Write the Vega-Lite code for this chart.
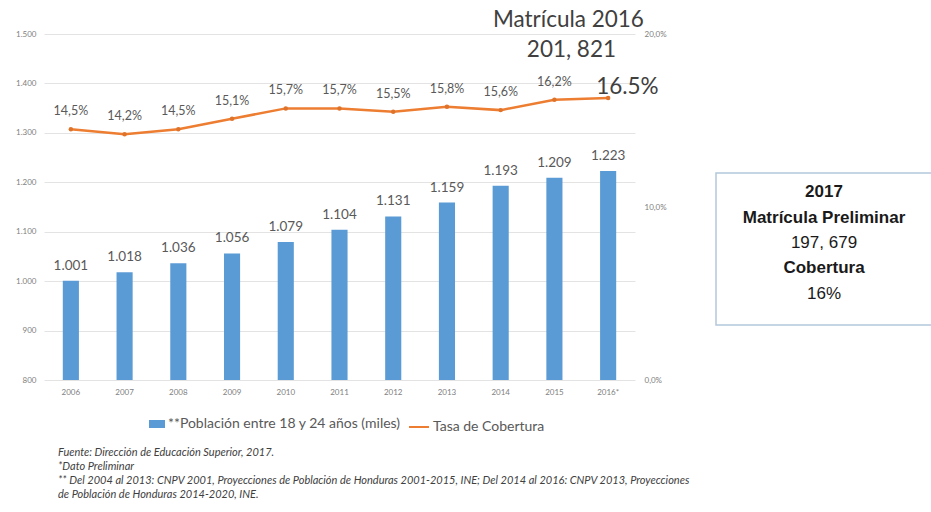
{
  "$schema": "https://vega.github.io/schema/vega-lite/v6.json",
  "background": "white",
  "padding": {"left": 15, "top": 9, "right": 0, "bottom": 0},
  "bounds": "flush",
  "spacing": 81,
  "config": {
    "font": "Lato",
    "view": {"stroke": null},
    "locale": {"number": {"decimal": ",", "thousands": ".", "grouping": [3], "currency": ["", ""]}}
  },
  "title": {
    "text": [
      "Fuente: Dirección de Educación Superior, 2017.",
      "*Dato Preliminar",
      "** Del 2004 al 2013: CNPV 2001, Proyecciones de Población de Honduras 2001-2015, INE; Del 2014 al 2016: CNPV 2013, Proyecciones",
      "de Población de Honduras 2014-2020, INE."
    ],
    "orient": "bottom",
    "anchor": "start",
    "frame": "group",
    "fontSize": 11,
    "fontStyle": "italic",
    "fontWeight": "normal",
    "color": "#404040",
    "lineHeight": 14,
    "offset": 13,
    "dx": 14
  },
  "datasets": {
    "main": [
      {"year": "2006", "pob": 1001, "cob": 0.145},
      {"year": "2007", "pob": 1018, "cob": 0.142},
      {"year": "2008", "pob": 1036, "cob": 0.145},
      {"year": "2009", "pob": 1056, "cob": 0.151},
      {"year": "2010", "pob": 1079, "cob": 0.157},
      {"year": "2011", "pob": 1104, "cob": 0.157},
      {"year": "2012", "pob": 1131, "cob": 0.155},
      {"year": "2013", "pob": 1159, "cob": 0.158},
      {"year": "2014", "pob": 1193, "cob": 0.156},
      {"year": "2015", "pob": 1209, "cob": 0.162},
      {"year": "2016*", "pob": 1223, "cob": 0.163}
    ],
    "box": [
      {"line": 1, "text": "2017", "bold": true},
      {"line": 2, "text": "Matrícula Preliminar", "bold": true},
      {"line": 3, "text": "197, 679", "bold": false},
      {"line": 4, "text": "Cobertura", "bold": true},
      {"line": 5, "text": "16%", "bold": false}
    ]
  },
  "hconcat": [
    {
      "width": 591,
      "height": 346,
      "data": {"name": "main"},
      "encoding": {
        "x": {
          "field": "year",
          "type": "ordinal",
          "sort": null,
          "scale": {"paddingInner": 0.7, "paddingOuter": 0.35},
          "axis": {"title": null, "labelAngle": 0, "domain": false, "ticks": false, "labelFontSize": 8, "labelColor": "#808080", "labelPadding": 8}
        }
      },
      "layer": [
        {
          "encoding": {
            "y": {
              "field": "pob",
              "type": "quantitative",
              "scale": {"domain": [800, 1500], "zero": false, "nice": false},
              "axis": {"title": null, "values": [800, 900, 1000, 1100, 1200, 1300, 1400, 1500], "format": ",d", "domain": false, "ticks": false, "labelFontSize": 8, "labelColor": "#808080", "labelPadding": 8, "gridColor": "#e3e3e3", "gridWidth": 1}
            }
          },
          "layer": [
            {
              "mark": {"type": "bar"},
              "encoding": {
                "y2": {"datum": 800},
                "fill": {
                  "datum": "**Población entre 18 y 24 años (miles)",
                  "type": "nominal",
                  "scale": {"range": ["#5B9BD5"]},
                  "legend": {"orient": "none", "legendX": 105, "legendY": 382, "title": null, "symbolType": "M-1,-0.5H1V0.5H-1Z", "symbolSize": 256, "symbolStrokeWidth": 0, "labelFontSize": 14, "labelColor": "#595959", "labelOffset": 3, "labelLimit": 400}
                }
              }
            },
            {
              "mark": {"type": "text", "dy": -15, "baseline": "middle", "fontSize": 13.5, "color": "#595959"},
              "encoding": {"text": {"field": "pob", "type": "quantitative", "format": ",d"}}
            }
          ]
        },
        {
          "encoding": {
            "y": {
              "field": "cob",
              "type": "quantitative",
              "scale": {"domain": [0, 0.2], "nice": false},
              "axis": {"title": null, "orient": "right", "values": [0, 0.1, 0.2], "format": ".1%", "domain": false, "ticks": false, "grid": false, "labelFontSize": 8, "labelColor": "#808080", "labelPadding": 9}
            }
          },
          "layer": [
            {
              "mark": {"type": "line", "strokeWidth": 2.5},
              "encoding": {
                "stroke": {
                  "datum": "Tasa de Cobertura",
                  "type": "nominal",
                  "scale": {"range": ["#ED7D31"]},
                  "legend": {"orient": "none", "legendX": 364, "legendY": 382, "title": null, "symbolType": "stroke", "symbolSize": 400, "symbolStrokeWidth": 2, "labelFontSize": 14, "labelColor": "#595959", "labelOffset": 3, "labelLimit": 300}
                }
              }
            },
            {
              "mark": {"type": "point", "filled": true, "size": 20, "color": "#E0732A", "opacity": 1}
            },
            {
              "transform": [{"filter": "datum.year != '2016*'"}],
              "mark": {"type": "text", "dy": -18, "baseline": "middle", "fontSize": 12.5, "color": "#595959"},
              "encoding": {"text": {"field": "cob", "type": "quantitative", "format": ".1%"}}
            },
            {
              "transform": [{"filter": "datum.year == '2015'"}],
              "mark": {"type": "text", "fontSize": 22.5, "color": "#404040", "baseline": "middle", "align": "center", "dx": 14},
              "encoding": {"y": {"datum": 0.208}, "text": {"value": "Matrícula 2016"}}
            },
            {
              "transform": [{"filter": "datum.year == '2015'"}],
              "mark": {"type": "text", "fontSize": 22.5, "color": "#404040", "baseline": "middle", "align": "center", "dx": 17},
              "encoding": {"y": {"datum": 0.191}, "text": {"value": "201, 821"}}
            },
            {
              "transform": [{"filter": "datum.year == '2016*'"}],
              "mark": {"type": "text", "fontSize": 22.5, "color": "#404040", "baseline": "middle", "align": "left", "dx": -12},
              "encoding": {"y": {"datum": 0.1694}, "text": {"value": "16.5%"}}
            }
          ]
        }
      ],
      "resolve": {"scale": {"y": "independent"}}
    },
    {
      "bounds": "flush",
      "spacing": 20,
      "vconcat": [
        {
          "width": 216,
          "height": 119,
          "data": {"values": [{}]},
          "mark": {"type": "text"},
          "encoding": {"text": {"value": ""}}
        },
        {
          "width": 216,
          "height": 152,
          "view": {"stroke": "#b4c7dc", "strokeWidth": 1.5, "fill": "white"},
          "data": {"name": "box"},
          "encoding": {
            "y": {"field": "line", "type": "ordinal", "axis": null, "scale": {"type": "point", "padding": 1}},
            "text": {"field": "text", "type": "nominal"}
          },
          "layer": [
            {
              "transform": [{"filter": "datum.bold"}],
              "mark": {"type": "text", "font": "Liberation Sans", "fontSize": 17, "fontWeight": "bold", "color": "#1a1a1a", "baseline": "middle", "dy": -6}
            },
            {
              "transform": [{"filter": "!datum.bold"}],
              "mark": {"type": "text", "font": "Liberation Sans", "fontSize": 17, "fontWeight": "normal", "color": "#1a1a1a", "baseline": "middle", "dy": -6}
            }
          ]
        }
      ]
    }
  ]
}
